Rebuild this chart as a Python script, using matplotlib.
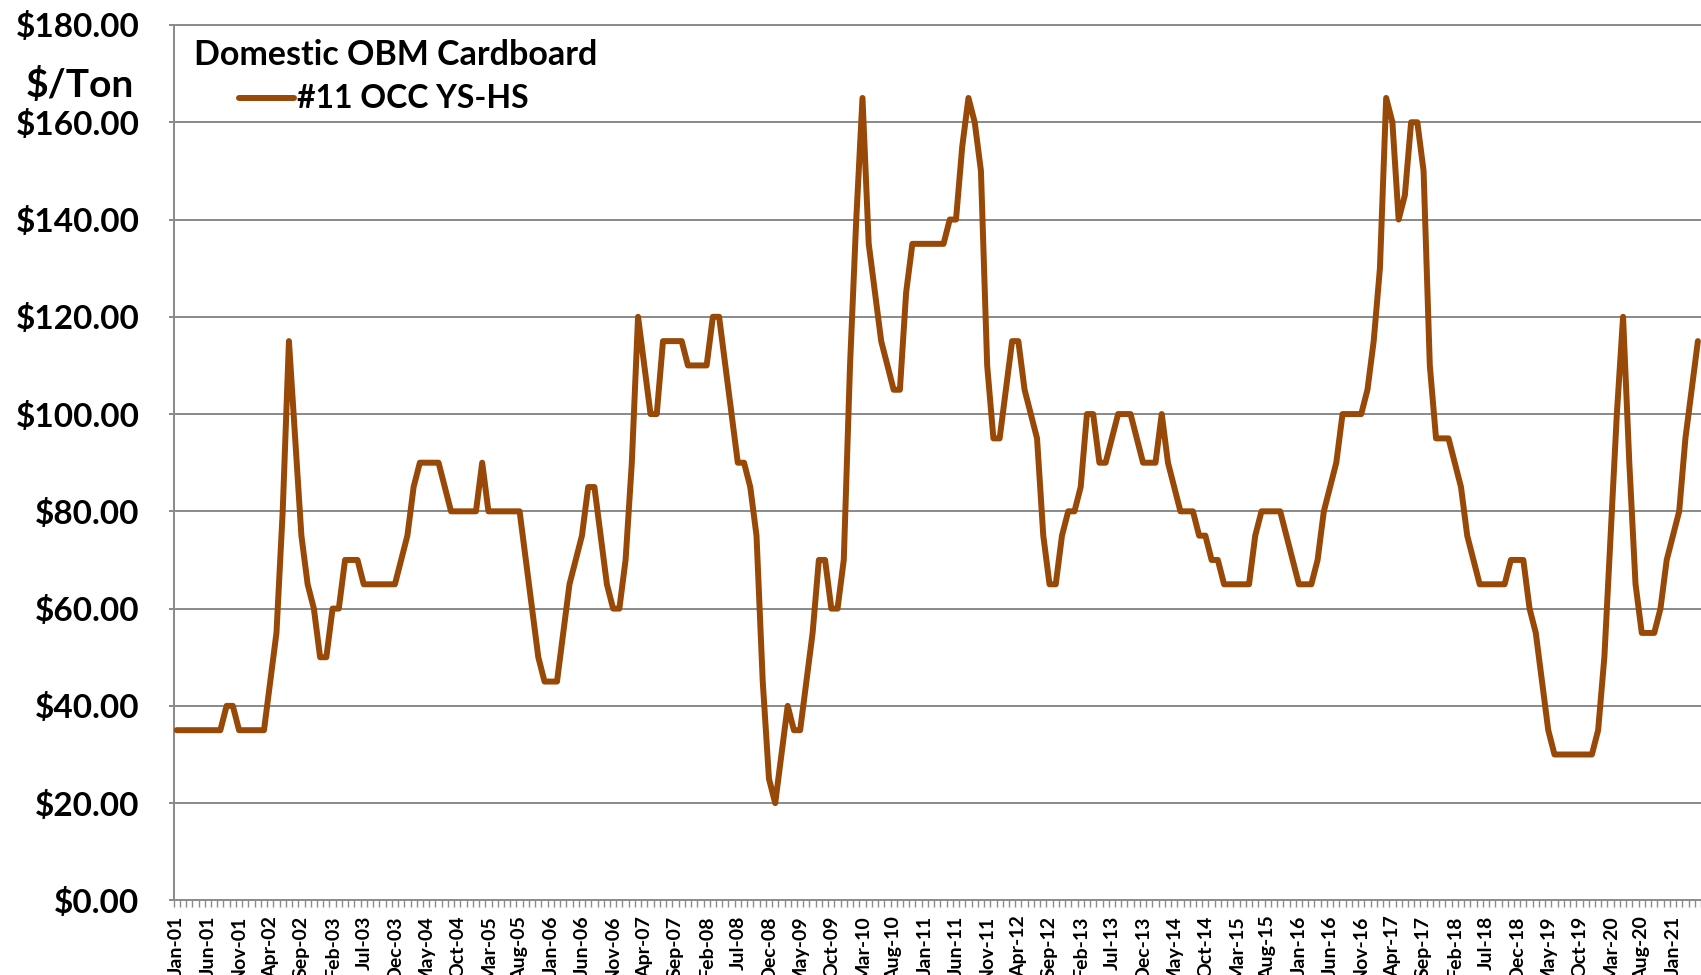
import matplotlib
matplotlib.use("Agg")
import matplotlib.pyplot as plt
from matplotlib.lines import Line2D
import numpy as np

plt.rcParams['font.family'] = ['Lato', 'DejaVu Sans']
plt.rcParams['font.weight'] = 'bold'

# ---------------- data (monthly $/ton, Jan-2001 onward) ----------------
start_year = 2001
month_names = ['Jan', 'Feb', 'Mar', 'Apr', 'May', 'Jun',
               'Jul', 'Aug', 'Sep', 'Oct', 'Nov', 'Dec']

occ_2001 = [35, 35, 35, 35, 35, 35, 35, 35, 40, 40, 35, 35]
occ_2002 = [35, 35, 35, 45, 55, 80, 115, 95, 75, 65, 60, 50]
occ_2003 = [50, 60, 60, 70, 70, 70, 65, 65, 65, 65, 65, 65]
occ_2004 = [70, 75, 85, 90, 90, 90, 90, 85, 80, 80, 80, 80]
occ_2005 = [80, 90, 80, 80, 80, 80, 80, 80, 70, 60, 50, 45]
occ_2006 = [45, 45, 55, 65, 70, 75, 85, 85, 75, 65, 60, 60]
occ_2007 = [70, 90, 120, 110, 100, 100, 115, 115, 115, 115, 110, 110]
occ_2008 = [110, 110, 120, 120, 110, 100, 90, 90, 85, 75, 45, 25]
occ_2009 = [20, 30, 40, 35, 35, 45, 55, 70, 70, 60, 60, 70]
occ_2010 = [110, 140, 165, 135, 125, 115, 110, 105, 105, 125, 135, 135]
occ_2011 = [135, 135, 135, 135, 140, 140, 155, 165, 160, 150, 110, 95]
occ_2012 = [95, 105, 115, 115, 105, 100, 95, 75, 65, 65, 75, 80]
occ_2013 = [80, 85, 100, 100, 90, 90, 95, 100, 100, 100, 95, 90]
occ_2014 = [90, 90, 100, 90, 85, 80, 80, 80, 75, 75, 70, 70]
occ_2015 = [65, 65, 65, 65, 65, 75, 80, 80, 80, 80, 75, 70]
occ_2016 = [65, 65, 65, 70, 80, 85, 90, 100, 100, 100, 100, 105]
occ_2017 = [115, 130, 165, 160, 140, 145, 160, 160, 150, 110, 95, 95]
occ_2018 = [95, 90, 85, 75, 70, 65, 65, 65, 65, 65, 70, 70]
occ_2019 = [70, 60, 55, 45, 35, 30, 30, 30, 30, 30, 30, 30]
occ_2020 = [35, 50, 75, 100, 120, 90, 65, 55, 55, 55, 60, 70]
occ_2021 = [75, 80, 95, 105, 115]

series_name = '#11 OCC YS-HS'
legend_title = 'Domestic OBM Cardboard'
axis_title = '$/Ton'
y_ticks = [0, 20, 40, 60, 80, 100, 120, 140, 160, 180]
label_every = 5

values = (occ_2001 + occ_2002 + occ_2003 + occ_2004 + occ_2005 + occ_2006 +
          occ_2007 + occ_2008 + occ_2009 + occ_2010 + occ_2011 + occ_2012 +
          occ_2013 + occ_2014 + occ_2015 + occ_2016 + occ_2017 + occ_2018 +
          occ_2019 + occ_2020 + occ_2021)
n = len(values)
categories = [f"{month_names[k % 12]}-{(start_year + k // 12) % 100:02d}" for k in range(n)]

# ---------------- styling ----------------
W, H = 1701, 975
DPI = 100
line_color = '#984807'
grid_color = '#8c8c8c'

fig = plt.figure(figsize=(W / DPI, H / DPI), dpi=DPI)
fig.patch.set_facecolor('white')

left_px, right_px = 173.6, 1701
top_px, bottom_px = 25.0, 900.4
px_per_cat = 6.27
ax = fig.add_axes([left_px / W, 1 - bottom_px / H,
                   (right_px - left_px) / W, (bottom_px - top_px) / H])

x = np.arange(n)
ax.plot(x, values, color=line_color, lw=4.3, solid_joinstyle='round',
        solid_capstyle='round', zorder=3)

ax.set_xlim(-0.5, -0.5 + (right_px - left_px) / px_per_cat)
ax.set_ylim(0, 180)

# y axis
ax.set_yticks(y_ticks)
ax.set_yticklabels([f"${v:.2f}" for v in y_ticks])
ax.tick_params(axis='y', length=3.6, width=1.44, color=grid_color,
               pad=21, labelsize=24)
ax.yaxis.grid(True, color=grid_color, lw=1.44)
for gl in ax.get_ygridlines():
    gl.set_clip_on(False)
ax.set_axisbelow(True)

# x axis
major = list(range(0, n, label_every))
ax.set_xticks(major)
ax.set_xticklabels([categories[k] for k in major], rotation=90,
                   fontsize=14, fontweight='bold')
ax.set_xticks(np.arange(-0.5, n, 1), minor=True)
ax.tick_params(axis='x', which='major', length=0, pad=11)
ax.tick_params(axis='x', which='minor', length=5, width=1.0, color=grid_color)

for s in ['top', 'right']:
    ax.spines[s].set_visible(False)
for s in ['left', 'bottom']:
    ax.spines[s].set_color(grid_color)
    ax.spines[s].set_linewidth(1.44)

# axis title and legend (manual placement)
fig.text(80 / W, 1 - 97 / H, axis_title, fontsize=28, fontweight='bold',
         ha='center', va='baseline')
fig.text(194 / W, 1 - 65 / H, legend_title, fontsize=24.5, fontweight='bold',
         ha='left', va='baseline')
fig.add_artist(Line2D([239 / W, 294 / W], [1 - 98 / H, 1 - 98 / H],
                      color=line_color, lw=4.3, solid_capstyle='round',
                      transform=fig.transFigure))
fig.text(297 / W, 1 - 108 / H, series_name, fontsize=23, fontweight='bold',
         ha='left', va='baseline')

fig.savefig('out.png', dpi=DPI, facecolor='white')
